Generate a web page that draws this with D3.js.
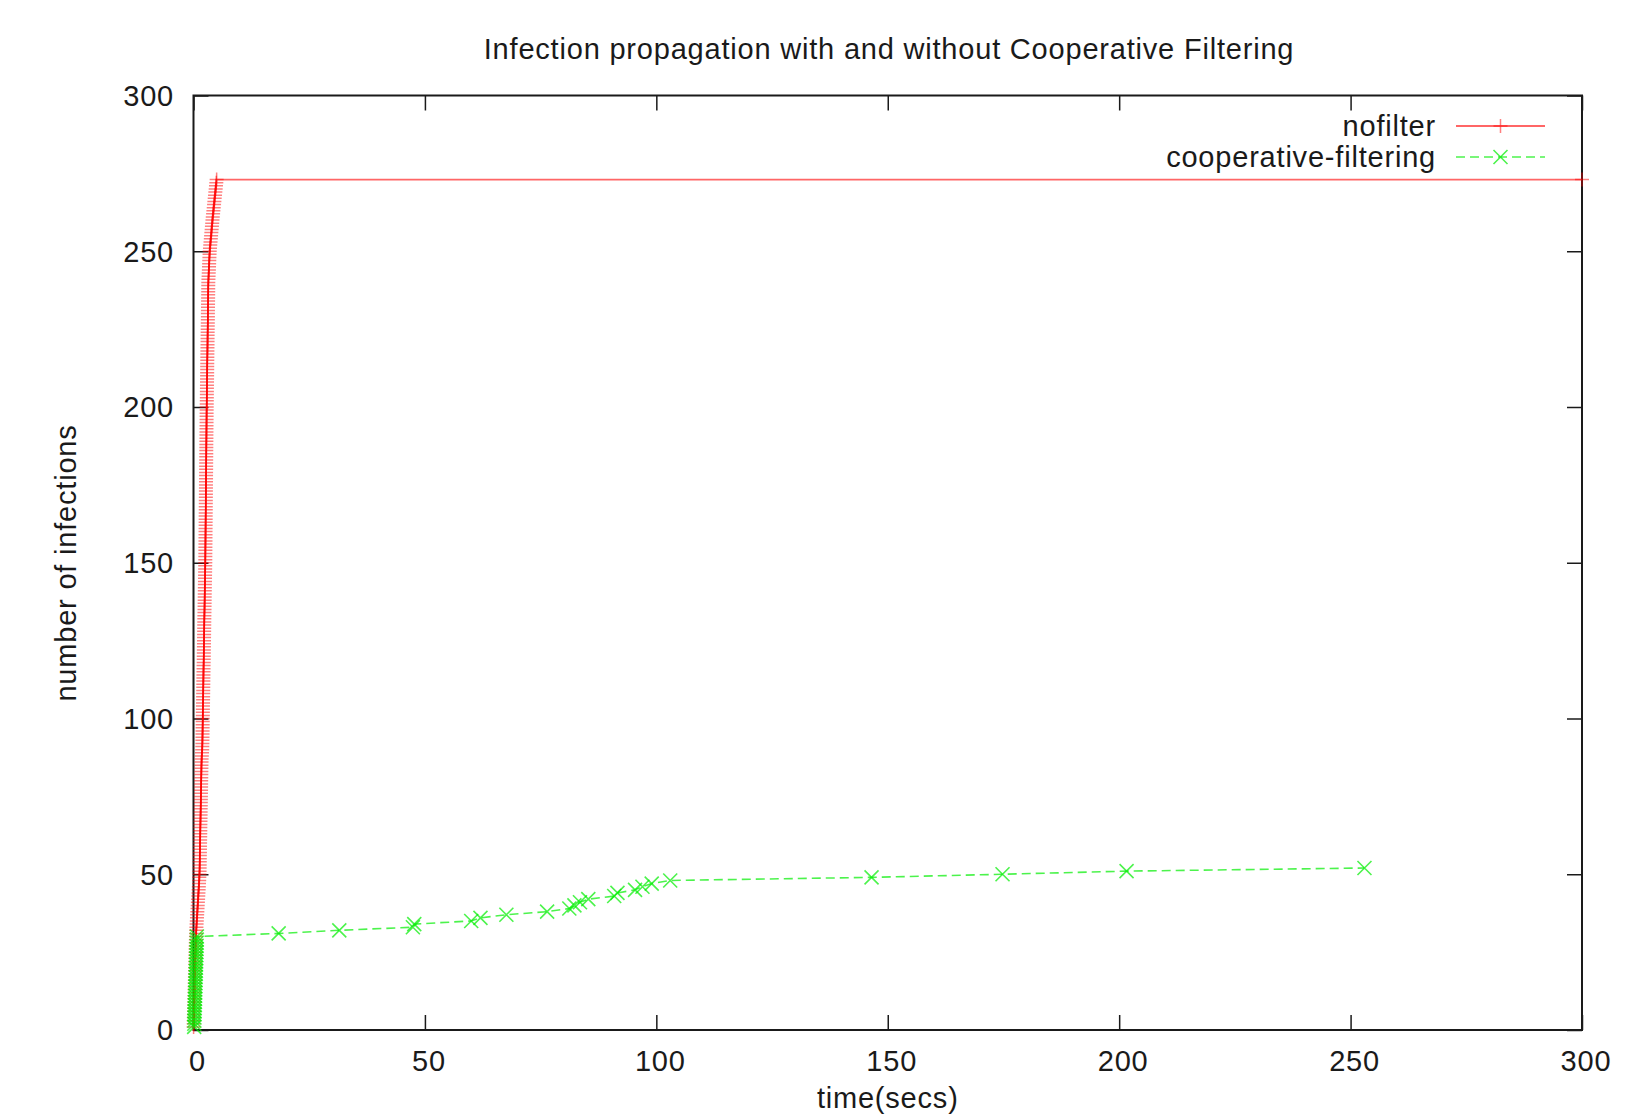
<!DOCTYPE html>
<html>
<head>
<meta charset="utf-8">
<script src="https://cdn.jsdelivr.net/npm/d3@7"></script>
<style>
  html, body { margin: 0; padding: 0; background: #fff; }
  svg { display: block; }
  text { font-family: "Liberation Sans", Arial, sans-serif; fill: #1a1a1a; }
</style>
</head>
<body>
<svg id="chart" width="1631" height="1116"></svg>
<script>
// ---- data ----
const title = "Infection propagation with and without Cooperative Filtering";
const xLabel = "time(secs)";
const yLabel = "number of infections";
const xTicks = [0, 50, 100, 150, 200, 250, 300];
const yTicks = [0, 50, 100, 150, 200, 250, 300];
const seriesNames = ["nofilter", "cooperative-filtering"];

// nofilter: time (s) of each successive infection, count 1..273, then flat to 300 s
const nofilterTimes = [
  0.02,0.04,0.06,0.08,0.10,0.12,0.14,0.16,0.18,0.20,
  0.21,0.23,0.24,0.26,0.27,0.29,0.30,0.32,0.33,0.35,
  0.37,0.38,0.40,0.42,0.43,0.45,0.47,0.49,0.51,0.53,
  0.55,0.59,0.63,0.67,0.71,0.75,0.79,0.83,0.87,0.91,
  0.95,0.99,1.03,1.07,1.11,1.15,1.19,1.23,1.26,1.30,
  1.31,1.33,1.34,1.35,1.36,1.37,1.39,1.40,1.41,1.42,
  1.43,1.45,1.46,1.47,1.48,1.49,1.51,1.52,1.53,1.54,
  1.55,1.57,1.58,1.59,1.60,1.61,1.63,1.64,1.65,1.66,
  1.67,1.69,1.70,1.71,1.72,1.74,1.75,1.80,1.84,1.88,
  1.90,1.92,1.93,1.94,1.95,1.96,1.97,1.98,1.99,2.00,
  2.01,2.02,2.03,2.04,2.06,2.07,2.08,2.09,2.10,2.11,
  2.12,2.13,2.14,2.15,2.16,2.17,2.18,2.20,2.21,2.22,
  2.23,2.24,2.25,2.26,2.27,2.28,2.29,2.30,2.31,2.32,
  2.33,2.34,2.35,2.37,2.38,2.39,2.40,2.41,2.42,2.43,
  2.44,2.45,2.46,2.48,2.49,2.50,2.51,2.52,2.53,2.55,
  2.55,2.56,2.56,2.57,2.57,2.58,2.59,2.59,2.60,2.60,
  2.61,2.62,2.62,2.63,2.63,2.64,2.65,2.65,2.66,2.66,
  2.67,2.68,2.68,2.69,2.69,2.70,2.71,2.71,2.72,2.73,
  2.73,2.74,2.74,2.75,2.76,2.76,2.77,2.77,2.78,2.79,
  2.79,2.80,2.80,2.81,2.82,2.82,2.83,2.83,2.84,2.85,
  2.86,2.87,2.88,2.89,2.89,2.90,2.91,2.92,2.93,2.94,
  2.95,2.96,2.96,2.97,2.98,2.99,3.00,3.01,3.02,3.03,
  3.04,3.04,3.05,3.06,3.07,3.08,3.09,3.10,3.11,3.11,
  3.12,3.13,3.14,3.15,3.16,3.17,3.18,3.18,3.19,3.20,
  3.23,3.26,3.29,3.32,3.35,3.38,3.41,3.44,3.47,3.50,
  3.56,3.62,3.68,3.74,3.80,3.86,3.92,3.98,4.04,4.10,
  4.16,4.23,4.30,4.37,4.44,4.51,4.58,4.65,4.72,4.79,
  4.86,4.93,5.00
];
const nofilterEnd = [300, 273];

// cooperative-filtering: time (s) of each successive infection, count 1..52
const coopTimes = [
  0.15,0.17,0.19,0.21,0.23,0.25,0.27,0.29,0.31,0.33,
  0.35,0.37,0.39,0.41,0.43,0.45,0.47,0.49,0.51,0.53,
  0.55,0.57,0.59,0.61,0.63,0.65,0.67,0.69,0.71,0.73,
  18.4,31.5,47.4,47.7,60.0,62.0,67.6,76.4,81.2,82.3,
  83.5,85.3,90.9,91.6,95.4,97.0,99.0,103.0,146.5,174.8,
  201.6,253.0
];

// ---- layout ----
const svg = d3.select("#chart");
const L = 193.5, R = 1582, T = 95.5, B = 1030;
const x = d3.scaleLinear().domain([0, 300]).range([L, R]);
const y = d3.scaleLinear().domain([0, 300]).range([B, T]);
const tickLen = 15;
const fontSize = 29;
const ls = "0.8px";

const nofilterData = nofilterTimes.map((t, i) => [t, i + 1]).concat([nofilterEnd]);
const coopData = coopTimes.map((t, i) => [t, i + 1]);

// title
svg.append("text").attr("x", 889).attr("y", 59)
  .attr("text-anchor", "middle").attr("font-size", fontSize).style("letter-spacing", ls)
  .text(title);

// axes (ticks inward on all sides)
const frame = svg.append("g").attr("class", "frame");
const axStroke = "#1a1a1a";
frame.append("g").attr("transform", `translate(0,${B})`)
  .call(d3.axisBottom(x).tickValues(xTicks).tickSize(-tickLen).tickFormat(""))
  .call(g => g.select(".domain").remove());
frame.append("g").attr("transform", `translate(0,${T})`)
  .call(d3.axisTop(x).tickValues(xTicks).tickSize(-tickLen).tickFormat(""))
  .call(g => g.select(".domain").remove());
frame.append("g").attr("transform", `translate(${L},0)`)
  .call(d3.axisLeft(y).tickValues(yTicks).tickSize(-tickLen).tickFormat(""))
  .call(g => g.select(".domain").remove());
frame.append("g").attr("transform", `translate(${R},0)`)
  .call(d3.axisRight(y).tickValues(yTicks).tickSize(-tickLen).tickFormat(""))
  .call(g => g.select(".domain").remove());
frame.selectAll(".tick line").attr("stroke", axStroke).attr("stroke-width", 1.5);
frame.append("rect").attr("x", L).attr("y", T).attr("width", R - L).attr("height", B - T)
  .attr("fill", "none").attr("stroke", axStroke).attr("stroke-width", 2);

// tick labels
svg.append("g").selectAll("text").data(xTicks).join("text")
  .attr("x", d => x(d) + 4).attr("y", B + 41)
  .attr("text-anchor", "middle").attr("font-size", fontSize).style("letter-spacing", ls)
  .text(d => d);
svg.append("g").selectAll("text").data(yTicks).join("text")
  .attr("x", 174).attr("y", d => y(d)).attr("dy", "0.36em")
  .attr("text-anchor", "end").attr("font-size", fontSize).style("letter-spacing", ls)
  .text(d => d);

// axis labels
svg.append("text").attr("x", (L + R) / 2).attr("y", 1108)
  .attr("text-anchor", "middle").attr("font-size", fontSize).style("letter-spacing", ls)
  .text(xLabel);
svg.append("text").attr("transform", "translate(76,563) rotate(-90)")
  .attr("text-anchor", "middle").attr("font-size", fontSize).style("letter-spacing", ls)
  .text(yLabel);

const red = "#ff0000", green = "#00ee00";
const ms = 7;
const line = d3.line().x(d => x(d[0])).y(d => y(d[1]));

function plus(g, cx, cy, color) {
  g.append("path").attr("d", `M${cx - ms},${cy}H${cx + ms}M${cx},${cy - ms}V${cy + ms}`)
    .attr("stroke", color).attr("stroke-width", 1.5).attr("stroke-opacity", 0.5).attr("fill", "none");
}
function cross(g, cx, cy, color) {
  g.append("path").attr("d", `M${cx - ms},${cy - ms}L${cx + ms},${cy + ms}M${cx - ms},${cy + ms}L${cx + ms},${cy - ms}`)
    .attr("stroke", color).attr("stroke-width", 1.6).attr("stroke-opacity", 0.7).attr("fill", "none");
}

// nofilter series
const gRed = svg.append("g");
gRed.append("path").datum(nofilterData).attr("d", line)
  .attr("fill", "none").attr("stroke", red).attr("stroke-width", 1.8).attr("stroke-opacity", 0.6);
nofilterData.forEach(d => plus(gRed, x(d[0]), y(d[1]), red));

// cooperative-filtering series
const gGreen = svg.append("g");
gGreen.append("path").datum(coopData).attr("d", line)
  .attr("fill", "none").attr("stroke", green).attr("stroke-width", 1.6).attr("stroke-opacity", 0.7)
  .attr("stroke-dasharray", "9,5");
coopData.forEach(d => cross(gGreen, x(d[0]), y(d[1]), green));

// legend
const legX1 = 1456, legX2 = 1545, legTextX = 1436;
const legY = [126, 157];
const leg = svg.append("g");
leg.append("text").attr("x", legTextX).attr("y", legY[0]).attr("dy", "0.36em")
  .attr("text-anchor", "end").attr("font-size", fontSize).style("letter-spacing", ls).text(seriesNames[0]);
leg.append("line").attr("x1", legX1).attr("x2", legX2).attr("y1", legY[0]).attr("y2", legY[0])
  .attr("stroke", red).attr("stroke-width", 1.8).attr("stroke-opacity", 0.6);
plus(leg, (legX1 + legX2) / 2, legY[0], red);
leg.append("text").attr("x", legTextX).attr("y", legY[1]).attr("dy", "0.36em")
  .attr("text-anchor", "end").attr("font-size", fontSize).style("letter-spacing", ls).text(seriesNames[1]);
leg.append("line").attr("x1", legX1).attr("x2", legX2).attr("y1", legY[1]).attr("y2", legY[1])
  .attr("stroke", green).attr("stroke-width", 1.6).attr("stroke-opacity", 0.7).attr("stroke-dasharray", "9,5");
cross(leg, (legX1 + legX2) / 2, legY[1], green);
</script>
</body>
</html>
